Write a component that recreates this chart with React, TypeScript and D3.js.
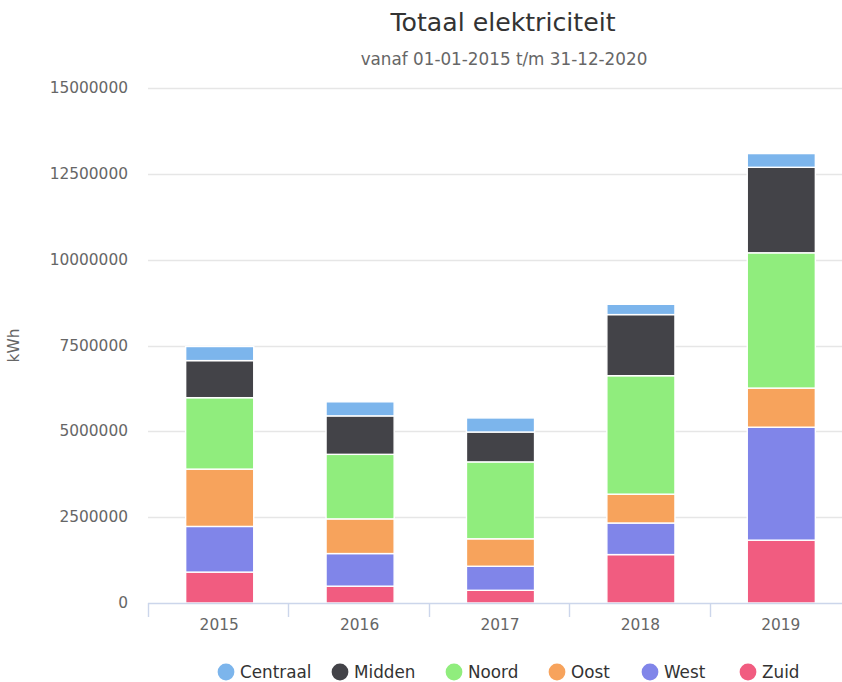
import React, { useEffect, useRef } from 'react';
import * as d3 from 'd3';

const years = ['2015', '2016', '2017', '2018', '2019'];
const regions = ['Centraal', 'Midden', 'Noord', 'Oost', 'West', 'Zuid'];
const colors = ['#7cb5ec', '#434348', '#90ed7d', '#f7a35c', '#8085e9', '#f15c80'];

// kWh per region per year
const centraal = [410000, 410000, 410000, 300000, 400000];
const midden = [1080000, 1120000, 870000, 1780000, 2490000];
const noord = [2080000, 1880000, 2240000, 3450000, 3940000];
const oost = [1670000, 1010000, 800000, 840000, 1140000];
const west = [1330000, 950000, 700000, 920000, 3290000];
const zuid = [900000, 490000, 370000, 1410000, 1830000];

const yTicks = [0, 2500000, 5000000, 7500000, 10000000, 12500000, 15000000];

const FONT = '"DejaVu Sans", Verdana, sans-serif';

const App: React.FC = () => {
  const ref = useRef<SVGSVGElement>(null);

  useEffect(() => {
    const svg = d3.select(ref.current);
    svg.selectAll('*').remove();

    const W = 842;
    const H = 682;
    const left = 148;
    const right = 850;
    const top = 88;
    const bottom = 603;

    const rows = years.map((y, i) => ({
      year: y,
      Centraal: centraal[i],
      Midden: midden[i],
      Noord: noord[i],
      Oost: oost[i],
      West: west[i],
      Zuid: zuid[i],
    }));

    // Highcharts stacks last series at the bottom
    const stackOrder = [...regions].reverse();
    const stacked = d3.stack<any>().keys(stackOrder)(rows);

    const x = d3.scaleBand().domain(years).range([left, right]);
    const y = d3.scaleLinear().domain([0, 15000000]).range([bottom, top]);
    const color = d3.scaleOrdinal<string>().domain(regions).range(colors);

    svg
      .append('rect')
      .attr('width', W)
      .attr('height', H)
      .attr('fill', '#ffffff');

    // title
    svg
      .append('text')
      .attr('x', 503)
      .attr('y', 31)
      .attr('text-anchor', 'middle')
      .style('font-family', FONT)
      .style('font-size', '25.2px')
      .attr('fill', '#333333')
      .text('Totaal elektriciteit');

    svg
      .append('text')
      .attr('x', 504)
      .attr('y', 65)
      .attr('text-anchor', 'middle')
      .style('font-family', FONT)
      .style('font-size', '16.8px')
      .attr('fill', '#666666')
      .text('vanaf 01-01-2015 t/m 31-12-2020');

    // grid
    svg
      .append('g')
      .selectAll('line')
      .data(yTicks.slice(1))
      .enter()
      .append('line')
      .attr('x1', left)
      .attr('x2', W)
      .attr('y1', (d) => Math.round(y(d)) + 0.5)
      .attr('y2', (d) => Math.round(y(d)) + 0.5)
      .attr('stroke', '#e6e6e6')
      .attr('stroke-width', 1.4);

    svg
      .append('g')
      .selectAll('text')
      .data(yTicks)
      .enter()
      .append('text')
      .attr('x', 128)
      .attr('y', (d) => y(d) + 5)
      .attr('text-anchor', 'end')
      .style('font-family', FONT)
      .style('font-size', '15.4px')
      .attr('fill', '#666666')
      .text((d) => String(d));

    svg
      .append('text')
      .attr('transform', `translate(19, ${(top + bottom) / 2}) rotate(-90)`)
      .attr('text-anchor', 'middle')
      .style('font-family', FONT)
      .style('font-size', '15.4px')
      .attr('fill', '#666666')
      .text('kWh');

    // bars
    const barW = x.bandwidth() * 0.485;
    svg
      .append('g')
      .selectAll('g')
      .data(stacked)
      .enter()
      .append('g')
      .attr('fill', (s) => color(s.key))
      .selectAll('rect')
      .data((s) => s)
      .enter()
      .append('rect')
      .attr('x', (d: any) => x(d.data.year)! + (x.bandwidth() - barW) / 2 + 1.5)
      .attr('width', barW)
      .attr('y', (d) => y(d[1]))
      .attr('height', (d) => y(d[0]) - y(d[1]))
      .attr('stroke', '#ffffff')
      .attr('stroke-width', 1.4);

    // x axis
    svg
      .append('line')
      .attr('x1', left)
      .attr('x2', W)
      .attr('y1', bottom + 0.5)
      .attr('y2', bottom + 0.5)
      .attr('stroke', '#ccd6eb')
      .attr('stroke-width', 1.4);

    svg
      .append('g')
      .selectAll('line')
      .data(years)
      .enter()
      .append('line')
      .attr('x1', (d) => Math.round(x(d)!) + 0.5)
      .attr('x2', (d) => Math.round(x(d)!) + 0.5)
      .attr('y1', bottom)
      .attr('y2', bottom + 14)
      .attr('stroke', '#ccd6eb')
      .attr('stroke-width', 1.4);

    svg
      .append('g')
      .selectAll('text')
      .data(years)
      .enter()
      .append('text')
      .attr('x', (d) => x(d)! + x.bandwidth() / 2 + 1)
      .attr('y', 630)
      .attr('text-anchor', 'middle')
      .style('font-family', FONT)
      .style('font-size', '15.4px')
      .attr('fill', '#666666')
      .text((d) => d);

    // legend
    const legendX = [226, 340, 454, 557, 650, 748];
    const lg = svg
      .append('g')
      .selectAll('g')
      .data(regions)
      .enter()
      .append('g')
      .attr('transform', (_d, i) => `translate(${legendX[i]}, 672)`);

    lg.append('circle').attr('r', 8.4).attr('fill', (d) => color(d));
    lg.append('text')
      .attr('x', 14)
      .attr('y', 6)
      .style('font-family', FONT)
      .style('font-size', '16.8px')
      .attr('fill', '#333333')
      .text((d) => d);
  }, []);

  return (
    <svg
      ref={ref}
      width={842}
      height={682}
      style={{ position: 'absolute', left: 0, top: 0, display: 'block' }}
    />
  );
};

export default App;
